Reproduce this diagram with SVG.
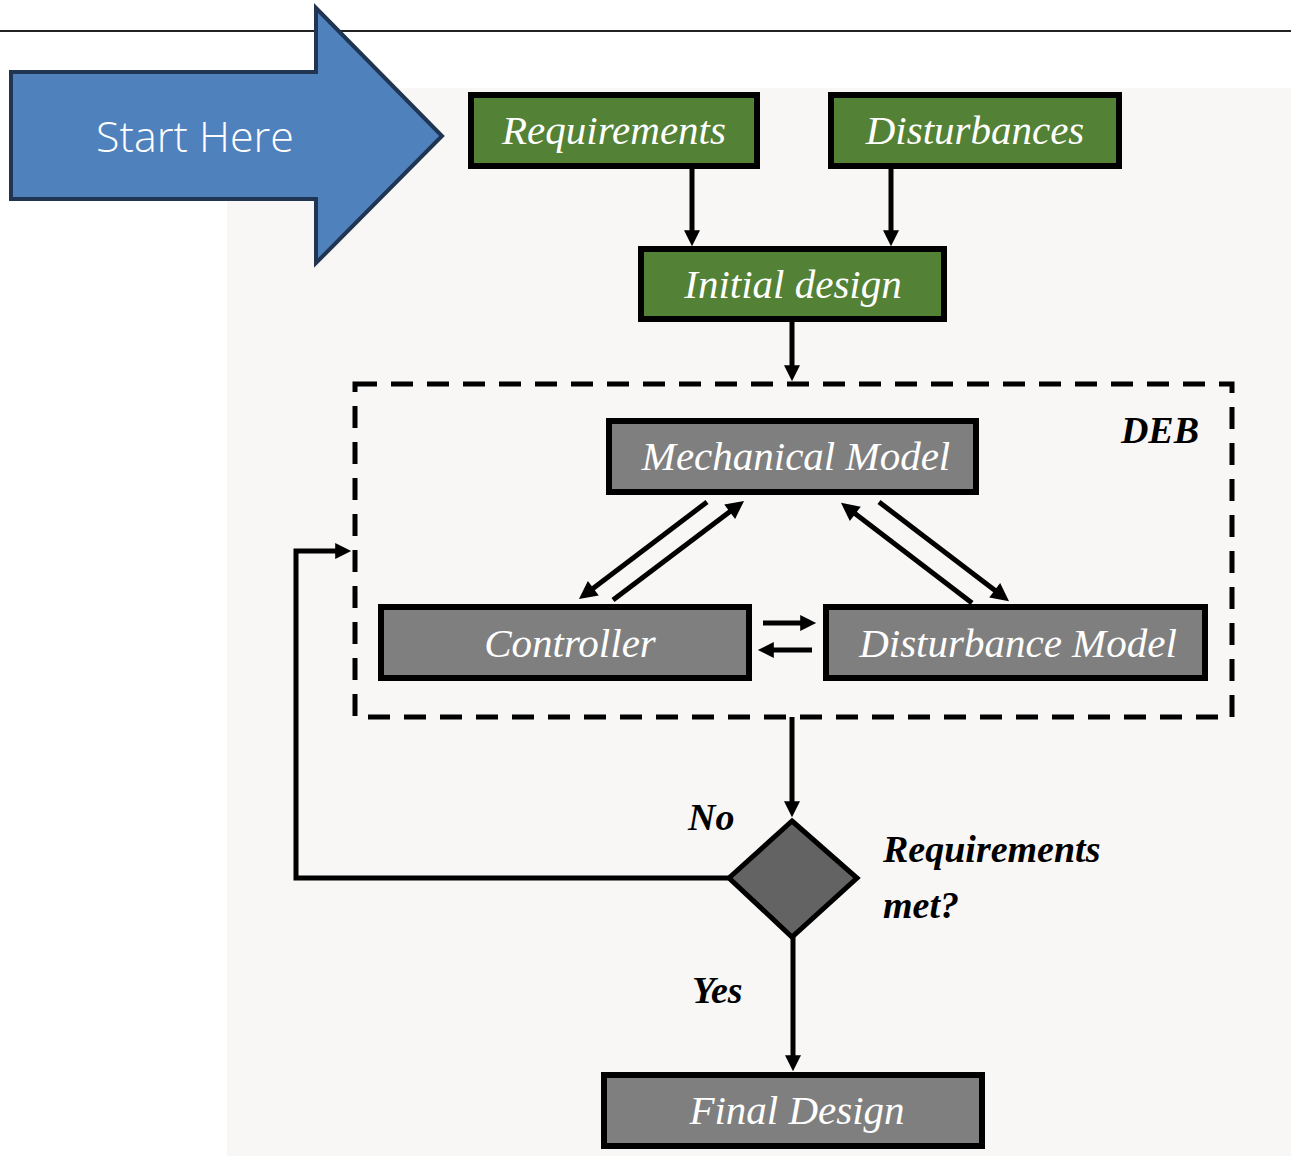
<svg xmlns="http://www.w3.org/2000/svg" width="1291" height="1156" viewBox="0 0 1291 1156">
  <defs>
    <marker id="head" viewBox="0 0 10 10" refX="3" refY="5" markerWidth="17" markerHeight="16" markerUnits="userSpaceOnUse" orient="auto">
      <path d="M0,0 L10,5 L0,10 z" fill="#000"/>
    </marker>
    <marker id="headBig" viewBox="0 0 10 10" refX="3" refY="5" markerWidth="20" markerHeight="18" markerUnits="userSpaceOnUse" orient="auto">
      <path d="M0,0 L10,5 L0,10 z" fill="#000"/>
    </marker>
    <style>
      .green { fill: #538135; stroke: #000; stroke-width: 6; }
      .gray { fill: #7f7f7f; stroke: #000; stroke-width: 6; }
      .box-label { font-family: "Liberation Serif", "DejaVu Serif", serif; font-style: italic; font-size: 41px; fill: #fff; text-anchor: middle; }
      .note { font-family: "Liberation Serif", "DejaVu Serif", serif; font-style: italic; font-size: 38px; fill: #000; }
      .bold { font-weight: bold; }
      .wire-v { fill: none; stroke: #000; stroke-width: 5; marker-end: url(#head); }
      .wire-d { fill: none; stroke: #000; stroke-width: 5; marker-end: url(#headBig); }
    </style>
  </defs>

  <!-- page -->
  <rect x="0" y="0" width="1291" height="1156" fill="#fff"/>
  <rect x="227" y="88" width="1064" height="1068" fill="#f8f7f6"/>
  <line x1="0" y1="31" x2="1291" y2="31" stroke="#222" stroke-width="2"/>

  <!-- start arrow -->
  <g id="start-here">
    <path d="M11,72 H316 V8 L442,136 L316,263 V199 H11 Z" fill="#4f81bd" stroke="#1f3552" stroke-width="4" stroke-linejoin="miter"/>
    <text x="195" y="152" font-family="'Open Sans', 'Liberation Sans', sans-serif" font-weight="300" font-size="43" fill="#fff" text-anchor="middle">Start Here</text>
  </g>

  <!-- DEB frame -->
  <g id="deb">
    <rect x="355" y="384" width="877" height="333" fill="none" stroke="#000" stroke-width="5" stroke-dasharray="22 14"/>
    <text class="note bold" x="1160" y="443" text-anchor="middle" font-size="36">DEB</text>
  </g>

  <g id="requirements">
    <rect class="green" x="471" y="95" width="286" height="71"/>
    <text class="box-label" x="614" y="144">Requirements</text>
  </g>
  <g id="disturbances">
    <rect class="green" x="831" y="95" width="288" height="71"/>
    <text class="box-label" x="975" y="144">Disturbances</text>
  </g>
  <g id="initial-design">
    <rect class="green" x="641" y="249" width="303" height="70"/>
    <text class="box-label" x="793" y="298">Initial design</text>
  </g>
  <g id="mechanical-model">
    <rect class="gray" x="609" y="421" width="367" height="71"/>
    <text class="box-label" x="796" y="470">Mechanical Model</text>
  </g>
  <g id="controller">
    <rect class="gray" x="381" y="607" width="368" height="71"/>
    <text class="box-label" x="570" y="657">Controller</text>
  </g>
  <g id="disturbance-model">
    <rect class="gray" x="826" y="607" width="379" height="71"/>
    <text class="box-label" x="1018" y="657">Disturbance Model</text>
  </g>
  <g id="decision">
    <path d="M792,821 L857,878 L792,937 L729,878 Z" fill="#636363" stroke="#000" stroke-width="5" stroke-linejoin="miter"/>
    <text class="note bold" x="883" y="862">Requirements</text>
    <text class="note bold" x="883" y="918">met?</text>
  </g>
  <g id="final-design">
    <rect class="gray" x="604" y="1075" width="378" height="71"/>
    <text class="box-label" x="797" y="1124">Final Design</text>
  </g>

  <!-- connectors -->
  <g id="connectors">
    <line class="wire-v" x1="692" y1="167" x2="692" y2="235"/>
    <line class="wire-v" x1="891" y1="167" x2="891" y2="235"/>
    <line class="wire-v" x1="792" y1="320" x2="792" y2="370"/>

    <line class="wire-d" x1="707" y1="502" x2="589" y2="591.5"/>
    <line class="wire-d" x1="613" y1="600" x2="734" y2="508.5"/>
    <line class="wire-d" x1="972" y1="603" x2="851" y2="510.5"/>
    <line class="wire-d" x1="879" y1="502" x2="999" y2="593.5"/>

    <line class="wire-v" x1="763" y1="623" x2="805" y2="623"/>
    <line class="wire-v" x1="812" y1="650" x2="769" y2="650"/>

    <line class="wire-v" x1="792" y1="717" x2="792" y2="806"/>
    <path class="wire-v" d="M729,878 H296 V551 H340"/>
    <line class="wire-v" x1="793" y1="937" x2="793" y2="1060"/>

    <text class="note" x="688" y="830" font-weight="bold">No</text>
    <text class="note" x="692" y="1003" font-weight="bold">Yes</text>
  </g>
</svg>
